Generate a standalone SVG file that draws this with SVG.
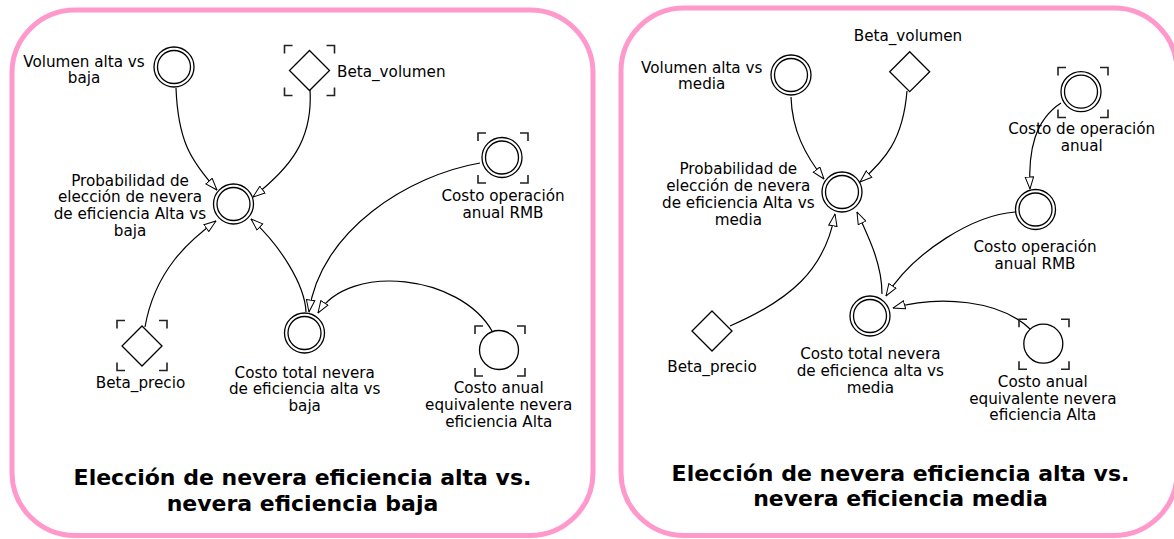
<svg xmlns="http://www.w3.org/2000/svg" xmlns:xlink="http://www.w3.org/1999/xlink" width="1174" height="539" viewBox="0 0 1174 539">
<style>
.panel{fill:#fff;stroke:#FF99CC;stroke-width:5}
.lbl{font-family:"DejaVu Sans",Verdana,sans-serif;font-size:15.2px;fill:#000;text-anchor:middle}
.lbs{font-family:"DejaVu Sans",Verdana,sans-serif;font-size:15.2px;fill:#000}
.ttl{font-family:"DejaVu Sans",Verdana,sans-serif;font-weight:bold;font-size:22px;fill:#000;text-anchor:middle}
.c{fill:#fff;stroke:#000;stroke-width:1.3}
.br{fill:none;stroke:#222;stroke-width:1.6}
.lnk{fill:none;stroke:#000;stroke-width:1.2;marker-end:url(#arr)}
</style>
<defs>
<marker id="arr" viewBox="0 0 13 10" refX="12.5" refY="5" markerWidth="13" markerHeight="10" markerUnits="userSpaceOnUse" orient="auto">
<path d="M0.5,0.8 L12.5,5 L0.5,9.2 Z" fill="#fff" stroke="#000" stroke-width="1"/>
</marker>
<path id="brk" class="br" d="M-25,-17V-25H-17M17,-25H25V-17M25,17V25H17M-17,25H-25V17"/>
<g id="dbl"><circle class="c" r="20"/><circle class="c" r="16.5"/></g>
<path id="dia" class="c" d="M0,-20L20,0L0,20L-20,0Z"/>
</defs>

<g id="panel-left"><rect class="panel" x="12" y="10" width="581" height="525.5" rx="63" ry="63"/></g>
<g id="panel-right"><rect class="panel" x="621" y="8" width="556" height="527.5" rx="63" ry="63"/></g>

<g id="connectors">
<path class="lnk" d="M176,88 C178,140 190,160 217,190"/>
<path class="lnk" d="M310,90 C313,140 290,168 253,197"/>
<path class="lnk" d="M480,163 C410,175 320,230 309,312"/>
<path class="lnk" d="M492,331 C460,275 350,262 318,313"/>
<path class="lnk" d="M306,312 C305,285 280,245 251,219"/>
<path class="lnk" d="M145,327 C155,270 190,240 216,221"/>

<path class="lnk" d="M791,97 C792,130 805,155 824,179"/>
<path class="lnk" d="M907,91 C903,140 885,160 860,182"/>
<path class="lnk" d="M1061,103 C1035,120 1028,150 1030,189"/>
<path class="lnk" d="M1015,212 C975,215 915,250 886,296"/>
<path class="lnk" d="M1030,329 C1000,300 940,295 893,308"/>
<path class="lnk" d="M882,294 C882,265 870,240 857,212"/>
<path class="lnk" d="M730,326 C790,300 825,270 835,214"/>
</g>

<!-- Left panel nodes -->
<g id="l-volumen">
<use xlink:href="#dbl" x="174" y="67"/>
<text class="lbl" x="84" y="66.5">Volumen alta vs</text>
<text class="lbl" x="84" y="83">baja</text>
</g>
<g id="l-beta-volumen">
<use xlink:href="#dia" x="309.5" y="70.5"/>
<use xlink:href="#brk" x="309.5" y="70.5"/>
<text class="lbs" x="337" y="76.5">Beta_volumen</text>
</g>
<g id="l-probabilidad">
<use xlink:href="#dbl" x="233.5" y="204"/>
<text class="lbl" x="130" y="185.5">Probabilidad de</text>
<text class="lbl" x="130" y="202.2">elección de nevera</text>
<text class="lbl" x="130" y="218.9">de eficiencia Alta vs</text>
<text class="lbl" x="130" y="235.6">baja</text>
</g>
<g id="l-costo-op-rmb">
<use xlink:href="#dbl" x="502" y="157.5"/>
<use xlink:href="#brk" x="503" y="158"/>
<text class="lbl" x="503" y="201">Costo operación</text>
<text class="lbl" x="503" y="218">anual RMB</text>
</g>
<g id="l-beta-precio">
<use xlink:href="#dia" x="142" y="346"/>
<use xlink:href="#brk" x="142" y="345.5"/>
<text class="lbl" x="140.5" y="387.5">Beta_precio</text>
</g>
<g id="l-costo-total">
<use xlink:href="#dbl" x="304.5" y="333"/>
<text class="lbl" x="304.7" y="377.5">Costo total nevera</text>
<text class="lbl" x="304.7" y="394.3">de eficiencia alta vs</text>
<text class="lbl" x="304.7" y="411">baja</text>
</g>
<g id="l-costo-anual">
<circle class="c" cx="499" cy="350" r="19.5"/>
<use xlink:href="#brk" x="500" y="351"/>
<text class="lbl" x="498.7" y="393">Costo anual</text>
<text class="lbl" x="498.7" y="409.7">equivalente nevera</text>
<text class="lbl" x="498.7" y="426.5">eficiencia Alta</text>
</g>
<g id="l-title">
<text class="ttl" x="302.5" y="485">Elección de nevera eficiencia alta vs.</text>
<text class="ttl" x="302.5" y="510.5">nevera eficiencia baja</text>
</g>

<!-- Right panel nodes -->
<g id="r-volumen">
<use xlink:href="#dbl" x="791" y="75"/>
<text class="lbl" x="701.7" y="72.7">Volumen alta vs</text>
<text class="lbl" x="701.7" y="89.3">media</text>
</g>
<g id="r-beta-volumen">
<use xlink:href="#dia" x="909.7" y="71.7"/>
<text class="lbl" x="908" y="40.5">Beta_volumen</text>
</g>
<g id="r-costo-de-operacion">
<use xlink:href="#dbl" x="1081" y="91.7"/>
<use xlink:href="#brk" x="1083" y="92.5"/>
<text class="lbl" x="1081.7" y="134">Costo de operación</text>
<text class="lbl" x="1081.7" y="151">anual</text>
</g>
<g id="r-costo-op-rmb">
<use xlink:href="#dbl" x="1035.5" y="209.5"/>
<text class="lbl" x="1035" y="252.3">Costo operación</text>
<text class="lbl" x="1035" y="269">anual RMB</text>
</g>
<g id="r-probabilidad">
<use xlink:href="#dbl" x="842" y="192"/>
<text class="lbl" x="738.3" y="174">Probabilidad de</text>
<text class="lbl" x="738.3" y="190.7">elección de nevera</text>
<text class="lbl" x="738.3" y="208">de eficiencia Alta vs</text>
<text class="lbl" x="738.3" y="225">media</text>
</g>
<g id="r-beta-precio">
<use xlink:href="#dia" x="712" y="331"/>
<text class="lbl" x="712" y="372">Beta_precio</text>
</g>
<g id="r-costo-total">
<use xlink:href="#dbl" x="870" y="316"/>
<text class="lbl" x="870.3" y="359.3">Costo total nevera</text>
<text class="lbl" x="870.3" y="376">de eficienca alta vs</text>
<text class="lbl" x="870.3" y="392.7">media</text>
</g>
<g id="r-costo-anual">
<circle class="c" cx="1043.3" cy="343.7" r="19.5"/>
<use xlink:href="#brk" x="1044" y="344.3"/>
<text class="lbl" x="1042.8" y="387">Costo anual</text>
<text class="lbl" x="1042.8" y="403.5">equivalente nevera</text>
<text class="lbl" x="1042.8" y="420">eficiencia Alta</text>
</g>
<g id="r-title">
<text class="ttl" x="900.5" y="480.5">Elección de nevera eficiencia alta vs.</text>
<text class="ttl" x="900.5" y="506">nevera eficiencia media</text>
</g>
</svg>
